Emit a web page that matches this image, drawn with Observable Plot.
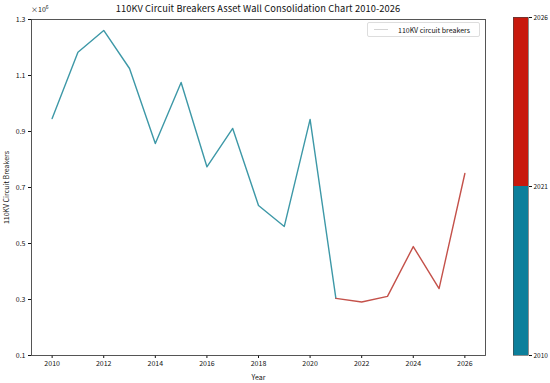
<!DOCTYPE html>
<html>
<head>
<meta charset="utf-8">
<script src="https://cdn.jsdelivr.net/npm/d3@7"></script>
<script src="https://cdn.jsdelivr.net/npm/@observablehq/plot@0.6"></script>
<style>
  html, body { margin: 0; padding: 0; background: #fff; }
  #wrap { position: relative; width: 550px; height: 383px; font-family: "Noto Sans CJK SC", "DejaVu Sans", sans-serif; color: #111; }
  #wrap svg { position: absolute; top: 0; overflow: visible; }
  #title { position: absolute; left: 31px; width: 454px; top: 1px; text-align: center; font-size: 9.3px; white-space: nowrap; letter-spacing: 0.1px; }
  #legend { position: absolute; left: 367px; top: 22px; width: 113px; height: 15px; border: 1px solid #ddd; border-radius: 2px; background: #fff; font-size: 7px; display: flex; align-items: center; box-sizing: border-box; }
  #legend .sw { width: 14px; height: 0; border-top: 1px solid #d4d4d4; margin: 0 10px 0 6px; }
  #exp { position: absolute; left: 31px; top: 3px; font-size: 7px; }
</style>
</head>
<body>
<div id="wrap">
  <div id="title">110KV Circuit Breakers Asset Wall Consolidation Chart 2010-2026</div>
</div>
<script>
// ---- data ----
const years = [2010, 2011, 2012, 2013, 2014, 2015, 2016, 2017, 2018, 2019, 2020, 2021, 2022, 2023, 2024, 2025, 2026];
const values = [0.946, 1.183, 1.261, 1.125, 0.857, 1.075, 0.774, 0.911, 0.636, 0.561, 0.943, 0.304, 0.291, 0.311, 0.489, 0.339, 0.75]; // x10^6
const splitYear = 2021;
const yTicks = [0.1, 0.3, 0.5, 0.7, 0.9, 1.1, 1.3];
const xTicks = [2010, 2012, 2014, 2016, 2018, 2020, 2022, 2024, 2026];
const colorbarLabels = ["2010", "2021", "2026"];
const colorbarColors = ["#0c7f9b", "#c8190d"];
const lineColors = ["#3d98a7", "#c4514a"];
const seriesName = "110KV circuit breakers";

const rows = years.map((y, i) => ({year: y, value: values[i]}));
const histRows = rows.filter(d => d.year <= splitYear);
const futRows = rows.filter(d => d.year >= splitYear);

const wrap = document.getElementById("wrap");
const fontFamily = '"Noto Sans CJK SC", "DejaVu Sans", sans-serif';

const main = Plot.plot({
  width: 550,
  height: 383,
  marginLeft: 31,
  marginRight: 65,
  marginTop: 19,
  marginBottom: 28,
  style: {fontFamily, fontSize: "7px", color: "#111", background: "transparent"},
  x: {domain: [2009.2, 2026.8], ticks: xTicks, tickFormat: d => String(d), tickSize: 3, tickPadding: 3,
      label: "Year", labelAnchor: "center", labelArrow: "none", labelOffset: 24},
  y: {domain: [0.1, 1.3], ticks: yTicks, tickFormat: d => d.toFixed(1), tickSize: 3, tickPadding: 3,
      label: "110KV Circuit Breakers", labelAnchor: "center", labelArrow: "none", labelOffset: 27},
  marks: [
    Plot.frame({stroke: "#444", strokeWidth: 0.9}),
    Plot.line(histRows, {x: "year", y: "value", stroke: lineColors[0], strokeWidth: 1.4}),
    Plot.line(futRows, {x: "year", y: "value", stroke: lineColors[1], strokeWidth: 1.4})
  ]
});
main.style.left = "0px";
wrap.appendChild(main);

const cbRows = [
  {i0: 0, i1: 1, c: colorbarColors[0]},
  {i0: 1, i1: 2, c: colorbarColors[1]}
];
const cb = Plot.plot({
  width: 60,
  height: 383,
  marginLeft: 23,
  marginRight: 22,
  marginTop: 17,
  marginBottom: 28,
  style: {fontFamily, fontSize: "6.5px", color: "#111", background: "transparent"},
  x: {domain: [0, 1], axis: null},
  y: {domain: [0, 2], ticks: [0, 1, 2], tickFormat: i => colorbarLabels[i], tickSize: 3, tickPadding: 2, label: null},
  marks: [
    Plot.rect(cbRows, {x1: 0, x2: 1, y1: "i0", y2: "i1", fill: "c"}),
    Plot.axisY({anchor: "right", ticks: [0, 1, 2], tickFormat: i => colorbarLabels[i], tickSize: 3, tickPadding: 2, label: null}),
    Plot.frame({stroke: "#444", strokeWidth: 0.6})
  ]
});
cb.style.left = "490px";
wrap.appendChild(cb);

const exp = document.createElement("div");
exp.id = "exp";
exp.innerHTML = "×10<sup style='font-size:5px'>6</sup>";
wrap.appendChild(exp);

const legend = document.createElement("div");
legend.id = "legend";
legend.innerHTML = `<span class="sw"></span><span>${seriesName}</span>`;
wrap.appendChild(legend);
</script>
</body>
</html>
